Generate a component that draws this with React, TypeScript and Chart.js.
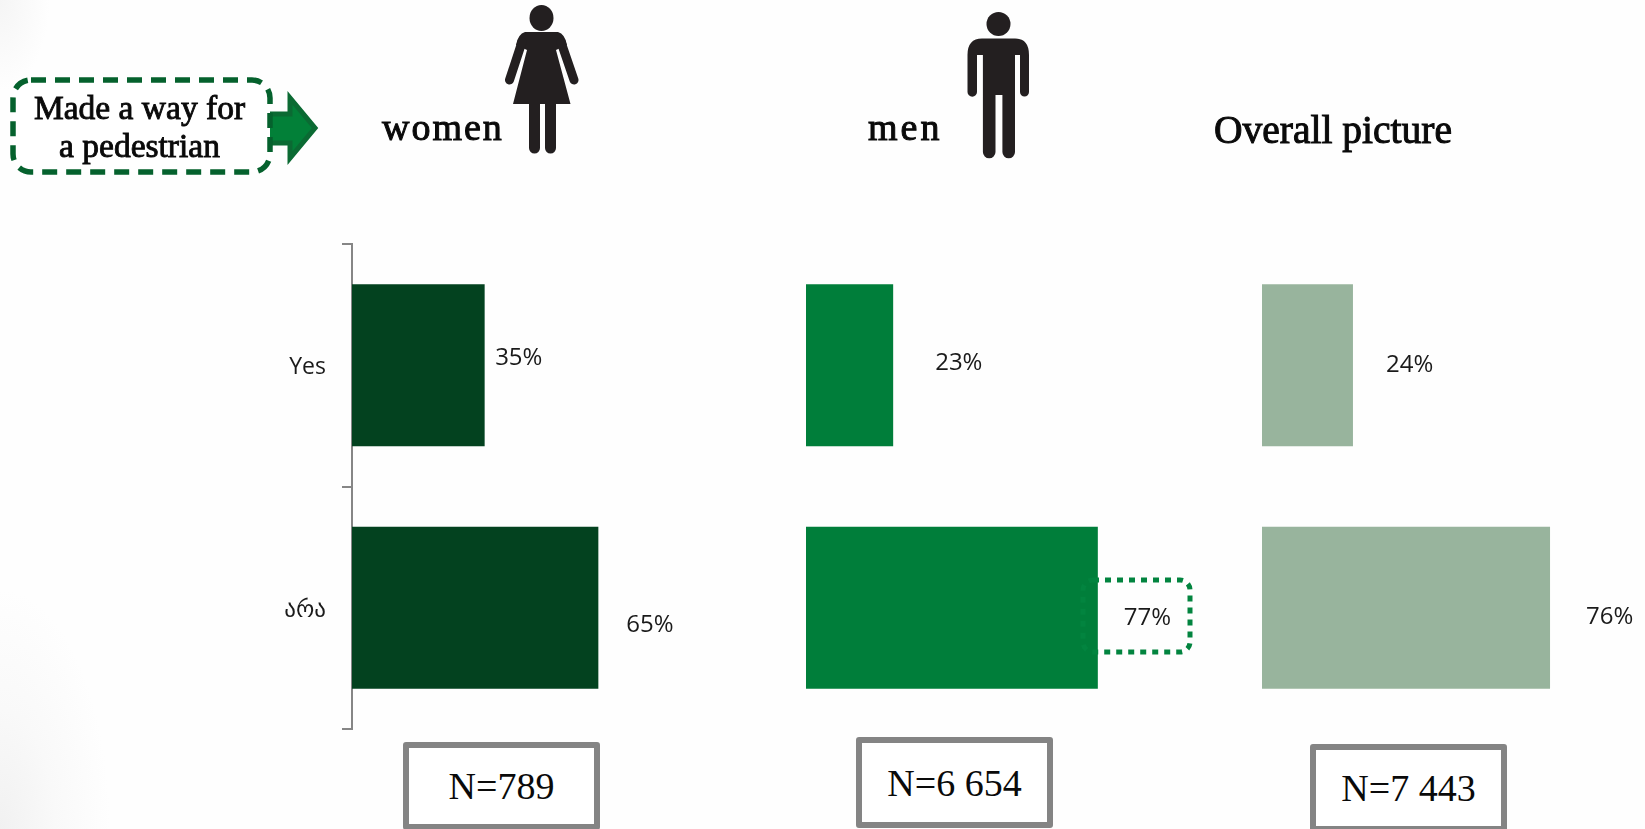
import React, { useEffect, useRef } from "react";
import { Chart, registerables } from "chart.js";

Chart.register(...registerables);

const categories = ["Yes", "არა"];
const womenValues = [35, 65];
const menValues = [23, 77];
const overallValues = [24, 76];
const panelTitles = ["women", "men", "Overall picture"];
const sampleLabels = ["N=789", "N=6 654", "N=7 443"];
const calloutLines = ["Made a way for", "a pedestrian"];

const LABEL_FONT = '"Open Sans", "DejaVu Sans", sans-serif';
const SERIF = '"Liberation Serif", serif';

const valueLabels = {
  id: "valueLabels",
  afterDatasetsDraw(chart: any, _a: any, opts: any) {
    const { ctx } = chart;
    const meta = chart.getDatasetMeta(0);
    ctx.save();
    ctx.font = `24px ${LABEL_FONT}`;
    ctx.fillStyle = "#1a1a1a";
    ctx.textAlign = "left";
    ctx.textBaseline = "middle";
    meta.data.forEach((bar: any, i: number) => {
      const v = chart.data.datasets[0].data[i];
      ctx.fillText(`${v}%`, bar.x + opts.shift[i][0], bar.y + opts.shift[i][1]);
    });
    ctx.restore();
  },
};

type PanelProps = {
  values: number[];
  color: string;
  left: number;
  width: number;
  paddingRight: number;
  showAxis: boolean;
  shift: number[][];
};

function Panel({ values, color, left, width, paddingRight, showAxis, shift }: PanelProps) {
  const ref = useRef<HTMLCanvasElement | null>(null);
  useEffect(() => {
    const chart = new Chart(ref.current as HTMLCanvasElement, {
      type: "bar",
      data: {
        labels: categories,
        datasets: [
          {
            data: values,
            backgroundColor: color,
            barPercentage: 0.668,
            categoryPercentage: 1,
          },
        ],
      },
      plugins: [valueLabels],
      options: {
        indexAxis: "y",
        responsive: false,
        maintainAspectRatio: false,
        animation: false,
        layout: { padding: { top: 14, bottom: 11, left: 0, right: paddingRight } },
        plugins: {
          legend: { display: false },
          title: { display: false },
          tooltip: { enabled: false },
          valueLabels: { shift },
        } as any,
        scales: {
          x: { display: false, min: 0, max: 100 },
          y: {
            display: showAxis,
            afterFit: (s: any) => {
              if (showAxis) {
                s.width = 122;
                s.paddingTop = 0;
                s.paddingBottom = 0;
              }
            },
            border: { display: true, color: "#868686", width: 2 },
            grid: {
              drawOnChartArea: false,
              drawTicks: true,
              tickLength: 10,
              color: "#868686",
              lineWidth: 2,
              offset: true,
            },
            ticks: {
              padding: 16,
              labelOffset: 2.5,
              color: "#1a1a1a",
              font: { family: LABEL_FONT, size: 23 },
            },
          },
        },
      } as any,
    });
    return () => chart.destroy();
  }, []);
  return (
    <canvas
      ref={ref}
      width={width}
      height={510}
      style={{ position: "absolute", left, top: 230, width, height: 510 }}
    />
  );
}

const abs = (o: React.CSSProperties): React.CSSProperties => ({
  position: "absolute",
  whiteSpace: "nowrap",
  color: "#0a0a0a",
  fontFamily: SERIF,
  ...o,
});

function SampleBox({ left, top, width, height, text }: { left: number; top: number; width: number; height: number; text: string }) {
  return (
    <div
      style={abs({
        left,
        top,
        width,
        height,
        boxSizing: "border-box",
        border: "6px solid #848484",
        borderRadius: 3,
        background: "#fff",
        display: "flex",
        alignItems: "center",
        justifyContent: "center",
        fontSize: 38,
      })}
    >
      {text}
    </div>
  );
}

const heavy = "1px #0a0a0a";

export default function App() {
  return (
    <div
      style={{
        position: "absolute",
        left: 0,
        top: 0,
        width: 1645,
        height: 829,
        overflow: "hidden",
        background:
          "radial-gradient(ellipse 110px 240px at 0px 829px,#f1f1f1 0%,#f9f9f9 50%,rgba(254,254,254,0) 100%), radial-gradient(ellipse 50px 90px at 0px 0px,#f5f5f5 0%,rgba(254,254,254,0) 100%), #fefefe",
      }}
    >
      <Panel values={womenValues} color="#03421F" left={230} width={520} paddingRight={19} showAxis shift={[[10.5, -7], [28, 17]]} />
      <Panel values={menValues} color="#007E3A" left={806} width={400} paddingRight={21} showAxis={false} shift={[[42, -2], [26, 10]]} />
      <Panel values={overallValues} color="#98B49D" left={1262} width={383} paddingRight={4} showAxis={false} shift={[[33, 0], [36, 9]]} />

      <svg width={1645} height={829} style={{ position: "absolute", left: 0, top: 0 }}>
        {/* callout round 77% */}
        <rect x={1083} y={580} width={107} height={72} rx={10} fill="none" stroke="#02843F" strokeWidth={5} strokeDasharray="6 6" />
        {/* arrow */}
        <path d="M262 114 H290 V98 L315 128 L290 158 V143 H262 Z" fill="#028038" stroke="#0B6A33" strokeWidth={5} />
        {/* dashed box */}
        <rect x={13} y={80} width={257} height={92} rx={18} fill="#fff" stroke="#05612D" strokeWidth={5.5} strokeDasharray="15 9" />
        {/* woman */}
        <g fill="#231F20" stroke="none">
          <ellipse cx={541.5} cy={18} rx={12} ry={13} />
          <path d="M525 32 H558 Q565 34 567 45 L556 50 L570.5 104 H556 V148 a5.5 5.5 0 0 1 -11 0 V104 H540 V148 a5.5 5.5 0 0 1 -11 0 V104 H513 L527 50 L516 45 Q518 34 525 32 Z" />
          <path d="M522 42 L509.5 80 M561 42 L574 80" stroke="#231F20" strokeWidth={9} strokeLinecap="round" fill="none" />
        </g>
        {/* man */}
        <g fill="#231F20" stroke="none">
          <ellipse cx={998.5} cy={24} rx={12} ry={12} />
          <path d="M982 38.5 H1015 Q1029 38.5 1029 55 V92 a4.5 4.5 0 0 1 -9 0 V55 H1015 V152 a6.3 6.3 0 0 1 -12.6 0 V95 H995.5 V152 a6.3 6.3 0 0 1 -12.6 0 V55 H977 V92 a4.5 4.5 0 0 1 -9.5 0 V55 Q967.5 38.5 982 38.5 Z" />
        </g>
      </svg>

      <div style={abs({ left: 0, width: 279, top: 89, textAlign: "center", fontSize: 33.5, lineHeight: "38px", WebkitTextStroke: "0.9px #0a0a0a" })}>
        {calloutLines[0]}
        <br />
        {calloutLines[1]}
      </div>

      <div style={abs({ left: 382, top: 105, fontSize: 38, lineHeight: "44px", letterSpacing: 2, WebkitTextStroke: heavy })}>{panelTitles[0]}</div>
      <div style={abs({ left: 868, top: 105, fontSize: 38, lineHeight: "44px", letterSpacing: 3, WebkitTextStroke: heavy })}>{panelTitles[1]}</div>
      <div style={abs({ left: 1214, top: 108, fontSize: 39.5, lineHeight: "44px", WebkitTextStroke: heavy })}>{panelTitles[2]}</div>

      <SampleBox left={403} top={742} width={197} height={88} text={sampleLabels[0]} />
      <SampleBox left={856} top={737} width={197} height={91} text={sampleLabels[1]} />
      <SampleBox left={1310} top={744} width={197} height={88} text={sampleLabels[2]} />
    </div>
  );
}
